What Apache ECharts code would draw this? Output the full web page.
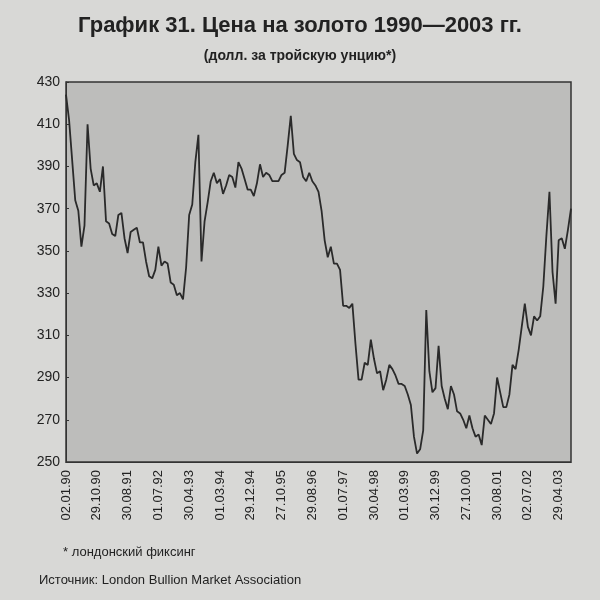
<!DOCTYPE html><html><head><meta charset="utf-8">
<script src="https://cdn.jsdelivr.net/npm/echarts@6/dist/echarts.min.js"></script>
<style>html,body{margin:0;background:#d8d8d6}#c{width:600px;height:600px}</style></head><body><div id="c"></div><script>
const tickLabels=["02.01.90","29.10.90","30.08.91","01.07.92","30.04.93","01.03.94","29.12.94","27.10.95","29.08.96","01.07.97","30.04.98","01.03.99","30.12.99","27.10.00","30.08.01","02.07.02","29.04.03"];
const y1990=[424,412,393,374,369,352,362,410,389,381,382,378];
const y1991=[390,364,363,358,357,367,368,356,349,359,360,361];
const y1992=[354,354,345,338,337,341,352,343,345,344,335,334];
const y1993=[329,330,327,342,367,372,392,405,345,364,373,383];
const y1994=[387,382,384,377,381,386,385,380,392,389,384,379];
const y1995=[379,376,382,391,385,387,386,383,383,383,386,387];
const y1996=[400,414,396,393,392,385,383,387,383,381,378,369];
const y1997=[355,347,352,344,344,341,324,324,323,325,306,289];
const y1998=[289,297,296,308,299,292,293,284,289,296,294,291];
const y1999=[287,287,286,282,277,262,254,256,265,322,293,283];
const y2000=[285,305,286,280,275,286,282,274,273,270,266,272];
const y2001=[266,262,263,258,272,270,268,273,290,283,276,276];
const y2002=[282,296,294,303,314,325,314,310,319,317,319,333];
const y2003=[357,378,340,325,355,356,351,360,370];
const values=[].concat(y1990,y1991,y1992,y1993,y1994,y1995,y1996,y1997,y1998,y1999,y2000,y2001,y2002,y2003);
const categories=values.map((v,i)=>String(i));
const ch=echarts.init(document.getElementById('c'));
const ff='"Liberation Sans",Arial,sans-serif';
ch.setOption({
 animation:false,
 title:[{text:'График 31. Цена на золото 1990—2003 гг.',left:'center',top:10,textStyle:{fontFamily:ff,fontSize:22,fontWeight:'bold',color:'#222'}},
  {text:'(долл. за тройскую унцию*)',left:'center',top:44,textStyle:{fontFamily:ff,fontSize:14,fontWeight:'bold',color:'#222'}},
  {text:'* лондонский фиксинг',left:58,top:541,textStyle:{fontFamily:ff,fontSize:13,fontWeight:'normal',color:'#222'}},
  {text:'Источник: London Bullion Market Association',left:34,top:569,textStyle:{fontFamily:ff,fontSize:13,fontWeight:'normal',color:'#222'}}],
 grid:{left:66,right:29,top:82,bottom:138,show:true,backgroundColor:'#bdbdbb',borderColor:'#333',borderWidth:1.5},
 xAxis:{type:'category',data:categories,boundaryGap:false,
  axisLine:{lineStyle:{color:'#333'}},axisTick:{show:false},
  axisLabel:{interval:9,rotate:90,fontFamily:ff,fontSize:13,color:'#222',formatter:(v,i)=>tickLabels[i/10]||''}},
 yAxis:{type:'value',min:250,max:430,interval:20,splitLine:{show:false},
  axisLine:{show:true,lineStyle:{color:'#333'}},axisTick:{show:true,inside:true,length:3},
  axisLabel:{fontFamily:ff,fontSize:14,color:'#222',margin:6}},
 series:[{type:'line',data:values,symbol:'none',lineStyle:{color:'#2a2a2a',width:1.8}}]
});
</script></body></html>
